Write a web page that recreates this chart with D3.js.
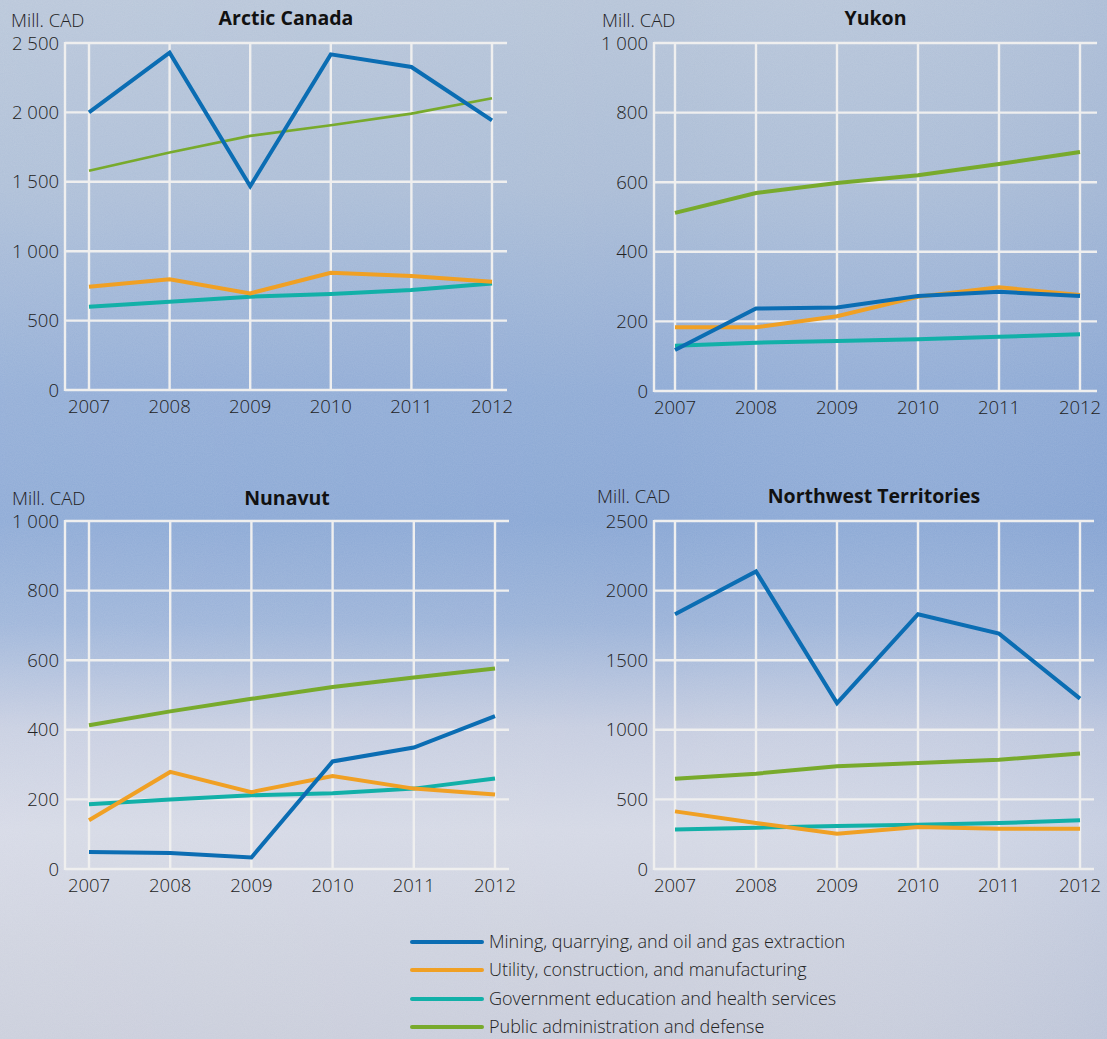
<!DOCTYPE html>
<html>
<head>
<meta charset="utf-8">
<script src="https://cdn.jsdelivr.net/npm/d3@7"></script>
<style>
  html, body { margin: 0; padding: 0; }
  body { width: 1107px; height: 1039px; overflow: hidden; }
  svg { display: block; font-family: "Open Sans", "Noto Sans", sans-serif; }
</style>
</head>
<body>
<svg id="chart" width="1107" height="1039"></svg>
<script>
// ---- Data ----
const years = [2007, 2008, 2009, 2010, 2011, 2012];
const seriesNames = [
  "Mining, quarrying, and oil and gas extraction",
  "Utility, construction, and manufacturing",
  "Government education and health services",
  "Public administration and defense"
];
const seriesColors = ["#0b6db3", "#f0a024", "#12b0a8", "#78aa2c"];

const arcticMining  = [2000, 2430, 1468, 2418, 2327, 1943];
const arcticUtility = [744, 797, 696, 845, 821, 780];
const arcticGov     = [600, 636, 672, 691, 720, 768];
const arcticPublic  = [1579, 1711, 1831, 1907, 1991, 2102];

const yukonMining  = [118, 237, 240, 273, 285, 273];
const yukonUtility = [183, 183, 215, 271, 298, 276];
const yukonGov     = [130, 139, 144, 149, 156, 163];
const yukonPublic  = [512, 569, 598, 620, 652, 687];

const nunavutMining  = [49, 46, 33, 309, 349, 439];
const nunavutUtility = [140, 279, 221, 267, 231, 214];
const nunavutGov     = [186, 200, 212, 218, 231, 260];
const nunavutPublic  = [413, 453, 489, 523, 550, 576];

const nwtMining  = [1830, 2138, 1192, 1830, 1691, 1224];
const nwtUtility = [414, 330, 254, 302, 290, 290];
const nwtGov     = [283, 297, 309, 318, 330, 350];
const nwtPublic  = [649, 685, 738, 761, 785, 829];

const ticksBig   = [0, 500, 1000, 1500, 2000, 2500];
const ticksSmall = [0, 200, 400, 600, 800, 1000];
const unitLabel = "Mill. CAD";

// ---- Layout ----
const panels = [
  { title: "Arctic Canada", series: [arcticMining, arcticUtility, arcticGov, arcticPublic],
    ticks: ticksBig, sep: true, left: 65, right: 507, top: 43, bottom: 390, x0: 89, x1: 492,
    unitX: 11, unitY: 27, titleY: 25, greenWidth: 2.6 },
  { title: "Yukon", series: [yukonMining, yukonUtility, yukonGov, yukonPublic],
    ticks: ticksSmall, sep: true, left: 654, right: 1097, top: 43, bottom: 391, x0: 675, x1: 1080,
    unitX: 602, unitY: 27, titleY: 25, greenWidth: 4 },
  { title: "Nunavut", series: [nunavutMining, nunavutUtility, nunavutGov, nunavutPublic],
    ticks: ticksSmall, sep: true, left: 65, right: 509, top: 521, bottom: 869, x0: 89, x1: 495,
    unitX: 12, unitY: 505, titleY: 505, greenWidth: 4 },
  { title: "Northwest Territories", series: [nwtMining, nwtUtility, nwtGov, nwtPublic],
    ticks: ticksBig, sep: false, left: 654, right: 1094, top: 521, bottom: 869, x0: 675, x1: 1080,
    unitX: 597, unitY: 503, titleY: 503, greenWidth: 4 }
];

const svg = d3.select("#chart");
const defs = svg.append("defs");

// background gradient
const grad = defs.append("linearGradient").attr("id", "bg").attr("x1", 0).attr("y1", 0).attr("x2", 0).attr("y2", 1);
[[0, "#b6c4d8"], [0.18, "#aabcd6"], [0.38, "#8eaad5"], [0.5, "#88a6d4"], [0.6, "#9ab2d8"],
 [0.7, "#c6cde0"], [0.8, "#d4d8e5"], [0.9, "#cdd1de"], [1, "#c8ccda"]]
  .forEach(([o, c]) => grad.append("stop").attr("offset", o).attr("stop-color", c));

const grad2 = defs.append("linearGradient").attr("id", "bg2").attr("x1", 0).attr("y1", 0).attr("x2", 1).attr("y2", 0);
grad2.append("stop").attr("offset", 0).attr("stop-color", "#ffffff").attr("stop-opacity", 0.06);
grad2.append("stop").attr("offset", 0.6).attr("stop-color", "#ffffff").attr("stop-opacity", 0);
grad2.append("stop").attr("offset", 1).attr("stop-color", "#6f90c8").attr("stop-opacity", 0.14);

const noise = defs.append("filter").attr("id", "noise").attr("x", 0).attr("y", 0).attr("width", "100%").attr("height", "100%");
noise.append("feTurbulence").attr("type", "fractalNoise").attr("baseFrequency", 0.9).attr("numOctaves", 2).attr("seed", 3);
noise.append("feColorMatrix").attr("type", "matrix")
  .attr("values", "0 0 0 0 1  0 0 0 0 1  0 0 0 0 1  0 0 0 0.18 0");

svg.append("rect").attr("width", 1107).attr("height", 1039).attr("fill", "url(#bg)");
svg.append("rect").attr("width", 1107).attr("height", 1039).attr("fill", "url(#bg2)");
svg.append("rect").attr("width", 1107).attr("height", 1039).attr("filter", "url(#noise)").attr("opacity", 0.6);

const fmtSep = v => d3.format(",")(v).replace(/,/g, " ");
const fmtNo = v => String(v);

const gridColor = "#efefef";
const textColor = "#222222";
const lightWeight = 300;

panels.forEach(p => {
  const g = svg.append("g");
  const x = d3.scalePoint().domain(years).range([p.x0, p.x1]);
  const y = d3.scaleLinear().domain([0, d3.max(p.ticks)]).range([p.bottom, p.top]);

  // horizontal grid
  g.selectAll("line.h").data(p.ticks).join("line")
    .attr("x1", p.left).attr("x2", p.right)
    .attr("y1", d => y(d)).attr("y2", d => y(d))
    .attr("stroke", gridColor).attr("stroke-width", 2.4);
  // vertical grid
  g.selectAll("line.v").data(years).join("line")
    .attr("x1", d => x(d)).attr("x2", d => x(d))
    .attr("y1", p.top).attr("y2", p.bottom)
    .attr("stroke", gridColor).attr("stroke-width", 2.4);
  // left edge
  g.append("line").attr("x1", p.left).attr("x2", p.left).attr("y1", p.top - 1).attr("y2", p.bottom + 1)
    .attr("stroke", gridColor).attr("stroke-width", 2.4);

  // y tick labels
  const fmt = p.sep ? fmtSep : fmtNo;
  g.selectAll("text.yt").data(p.ticks).join("text")
    .attr("x", p.left - 6).attr("y", d => y(d)).attr("dy", "0.36em")
    .attr("text-anchor", "end").attr("font-size", 18.5).attr("font-weight", lightWeight).attr("fill", textColor)
    .text(d => fmt(d));
  // x tick labels
  g.selectAll("text.xt").data(years).join("text")
    .attr("x", d => x(d)).attr("y", p.bottom + 23)
    .attr("text-anchor", "middle").attr("font-size", 18.5).attr("font-weight", lightWeight).attr("fill", textColor)
    .text(d => d);

  // unit & title
  g.append("text").attr("x", p.unitX).attr("y", p.unitY).attr("font-size", 18.5).attr("font-weight", lightWeight)
    .attr("fill", textColor).text(unitLabel);
  g.append("text").attr("x", (p.left + p.right) / 2).attr("y", p.titleY)
    .attr("text-anchor", "middle").attr("font-size", 19.5).attr("font-weight", "bold")
    .attr("fill", "#111").text(p.title);

  // lines
  const line = d3.line().x((d, i) => x(years[i])).y(d => y(d));
  const order = [3, 2, 1, 0];
  order.forEach(si => {
    g.append("path").datum(p.series[si])
      .attr("d", line).attr("fill", "none")
      .attr("stroke", seriesColors[si])
      .attr("stroke-width", si === 3 ? p.greenWidth : 4)
      .attr("stroke-linejoin", "miter").attr("stroke-linecap", "butt");
  });
});

// legend
const legend = svg.append("g");
const rowY = [942, 970, 999, 1027];
seriesNames.forEach((name, i) => {
  legend.append("line").attr("x1", 412).attr("x2", 482).attr("y1", rowY[i]).attr("y2", rowY[i])
    .attr("stroke", seriesColors[i]).attr("stroke-width", 4).attr("stroke-linecap", "round");
  legend.append("text").attr("x", 489).attr("y", rowY[i]).attr("dy", "0.36em")
    .attr("font-size", 18).attr("font-weight", lightWeight).attr("fill", textColor).text(name);
});
</script>
</body>
</html>
